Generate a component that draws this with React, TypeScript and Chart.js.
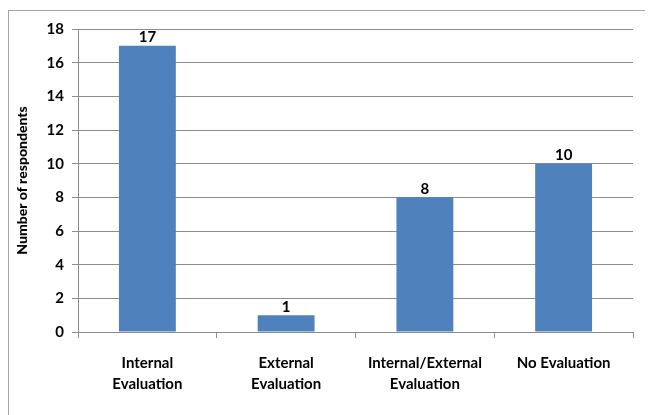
import React, { useEffect, useRef } from "react";
import { Chart, registerables } from "chart.js";

Chart.register(...registerables);

const categories: string[][] = [
  ["Internal", "Evaluation"],
  ["External", "Evaluation"],
  ["Internal/External", "Evaluation"],
  ["No Evaluation"],
];
const respondents: number[] = [17, 1, 8, 10];
const yTicks: number[] = [0, 2, 4, 6, 8, 10, 12, 14, 16, 18];

const FONT = "Lato, 'Open Sans', sans-serif";

const valueLabels = {
  id: "valueLabels",
  afterDatasetsDraw(chart: any) {
    const ctx = chart.ctx;
    const meta = chart.getDatasetMeta(0);
    ctx.save();
    ctx.font = `bold 15px ${FONT}`;
    ctx.fillStyle = "#000";
    ctx.textAlign = "center";
    ctx.textBaseline = "bottom";
    meta.data.forEach((bar: any, i: number) => {
      ctx.fillText(String(respondents[i]), bar.x, bar.y - 1);
    });
    ctx.restore();
  },
};

export default function App() {
  const ref = useRef<HTMLCanvasElement | null>(null);
  useEffect(() => {
    if (!ref.current) return;
    const chart = new Chart(ref.current, {
      type: "bar",
      data: {
        labels: categories,
        datasets: [
          {
            data: respondents,
            backgroundColor: "#4F81BD",
            borderWidth: 0,
            categoryPercentage: 0.82,
            barPercentage: 0.5,
          },
        ],
      },
      options: {
        animation: false,
        responsive: false,
        maintainAspectRatio: false,
        layout: { padding: { top: 18, right: 19, bottom: 0, left: 0 } },
        plugins: { legend: { display: false }, tooltip: { enabled: false } },
        scales: {
          x: {
            grid: {
              display: true,
              drawOnChartArea: false,
              offset: true,
              color: "#8c8c8c",
              tickLength: 6,
            },
            border: { color: "#8c8c8c" },
            ticks: {
              color: "#000",
              font: { family: FONT, size: 15, weight: "bold", lineHeight: 1.4 },
              padding: 15,
              maxRotation: 0,
              autoSkip: false,
            },
            afterFit(scale: any) {
              scale.height = 83;
            },
          },
          y: {
            min: 0,
            max: 18,
            afterBuildTicks(scale: any) {
              scale.ticks = yTicks.map((v) => ({ value: v }));
            },
            grid: { color: "#8c8c8c", tickLength: 6 },
            border: { color: "#8c8c8c" },
            ticks: {
              color: "#000",
              font: { family: FONT, size: 15, weight: "bold" },
              padding: 8,
            },
            title: {
              display: true,
              text: "Number of respondents",
              color: "#000",
              font: { family: FONT, size: 14, weight: "900" },
              padding: { top: 5, bottom: 0 },
            },
            afterFit(scale: any) {
              scale.width = 69;
            },
          },
        },
      },
      plugins: [valueLabels],
    });
    return () => chart.destroy();
  }, []);
  return (
    <div
      style={{
        marginTop: 2,
        width: 643,
        height: 410,
        border: "1px solid #a6a6a6",
        boxSizing: "content-box",
      }}
    >
      <canvas ref={ref} width={643} height={404} style={{ display: "block" }} />
    </div>
  );
}
